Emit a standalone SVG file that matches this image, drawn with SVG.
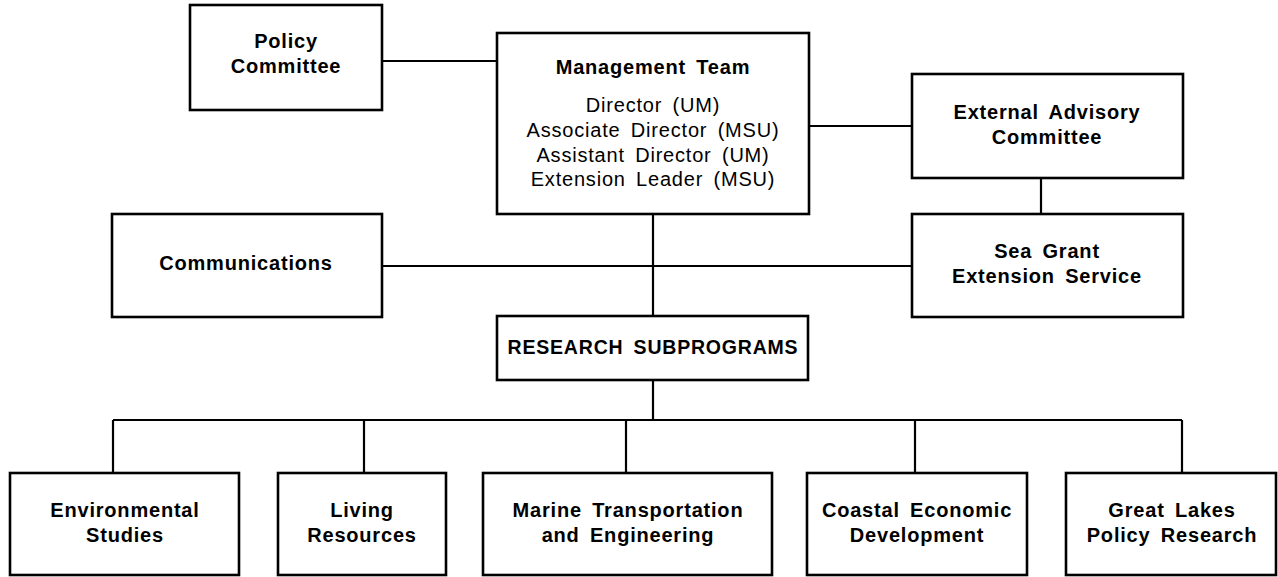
<svg xmlns="http://www.w3.org/2000/svg" width="1278" height="577" viewBox="0 0 1278 577">
<style>
  .box { fill: #ffffff; stroke: #000000; stroke-width: 2.6; }
  .conn { fill: none; stroke: #000000; stroke-width: 2.2; }
  text { font-family: "Liberation Sans", Arial, Helvetica, sans-serif; font-size: 20px; fill: #000000; text-anchor: middle; letter-spacing: 0.8px; word-spacing: 4px; }
  .b { font-weight: bold; }
</style>
<rect width="1278" height="577" fill="#ffffff"/>
<g id="connectors">
  <line class="conn" x1="382" y1="61" x2="497" y2="61"/>
  <line class="conn" x1="809" y1="126" x2="912" y2="126"/>
  <line class="conn" x1="1041" y1="178" x2="1041" y2="214"/>
  <line class="conn" x1="382" y1="266" x2="912" y2="266"/>
  <line class="conn" x1="653" y1="214" x2="653" y2="316"/>
  <line class="conn" x1="653" y1="380" x2="653" y2="420"/>
  <line class="conn" x1="113" y1="420" x2="1182" y2="420"/>
  <line class="conn" x1="113" y1="420" x2="113" y2="473"/>
  <line class="conn" x1="364" y1="420" x2="364" y2="473"/>
  <line class="conn" x1="626" y1="420" x2="626" y2="473"/>
  <line class="conn" x1="915" y1="420" x2="915" y2="473"/>
  <line class="conn" x1="1182" y1="420" x2="1182" y2="473"/>
</g>
<g id="policy-committee">
  <rect class="box" x="190" y="5" width="192" height="105"/>
  <text class="b" x="286" y="48">Policy</text>
  <text class="b" x="286" y="73">Committee</text>
</g>
<g id="management-team">
  <rect class="box" x="497" y="33" width="312" height="181"/>
  <text class="b" x="653" y="74">Management Team</text>
  <text x="653" y="112">Director (UM)</text>
  <text x="653" y="137">Associate Director (MSU)</text>
  <text x="653" y="162">Assistant Director (UM)</text>
  <text x="653" y="186">Extension Leader (MSU)</text>
</g>
<g id="external-advisory-committee">
  <rect class="box" x="912" y="74" width="271" height="104"/>
  <text class="b" x="1047" y="119">External Advisory</text>
  <text class="b" x="1047" y="144">Committee</text>
</g>
<g id="communications">
  <rect class="box" x="112" y="214" width="270" height="103"/>
  <text class="b" x="246" y="270">Communications</text>
</g>
<g id="sea-grant-extension-service">
  <rect class="box" x="912" y="214" width="271" height="103"/>
  <text class="b" x="1047" y="258">Sea Grant</text>
  <text class="b" x="1047" y="283">Extension Service</text>
</g>
<g id="research-subprograms">
  <rect class="box" x="497" y="316" width="311" height="64"/>
  <text class="b" x="653" y="354" style="font-size:19.5px">RESEARCH SUBPROGRAMS</text>
</g>
<g id="environmental-studies">
  <rect class="box" x="10" y="473" width="229" height="102"/>
  <text class="b" x="125" y="517">Environmental</text>
  <text class="b" x="125" y="542">Studies</text>
</g>
<g id="living-resources">
  <rect class="box" x="278" y="473" width="168" height="102"/>
  <text class="b" x="362" y="517">Living</text>
  <text class="b" x="362" y="542">Resources</text>
</g>
<g id="marine-transportation">
  <rect class="box" x="483" y="473" width="289" height="102"/>
  <text class="b" x="628" y="517">Marine Transportation</text>
  <text class="b" x="628" y="542">and Engineering</text>
</g>
<g id="coastal-economic-development">
  <rect class="box" x="807" y="473" width="220" height="102"/>
  <text class="b" x="917" y="517">Coastal Economic</text>
  <text class="b" x="917" y="542">Development</text>
</g>
<g id="great-lakes-policy-research">
  <rect class="box" x="1066" y="473" width="210" height="102"/>
  <text class="b" x="1172" y="517">Great Lakes</text>
  <text class="b" x="1172" y="542">Policy Research</text>
</g>
</svg>
